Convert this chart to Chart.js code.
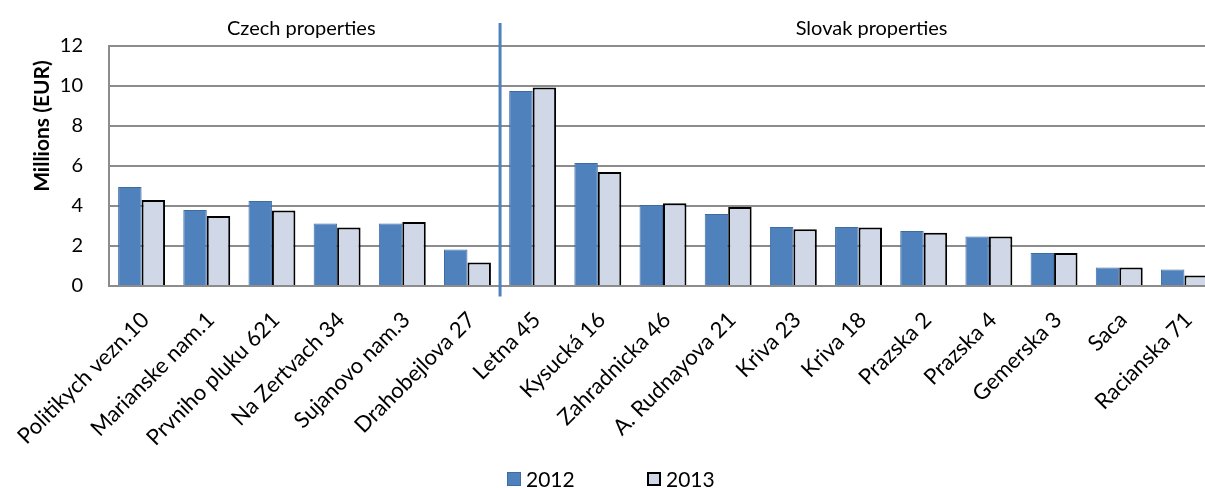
<!DOCTYPE html>
<html>
<head>
<meta charset="utf-8">
<script src="https://cdn.jsdelivr.net/npm/chart.js@4/dist/chart.umd.min.js"></script>
<style>
  html, body { margin: 0; padding: 0; background: #fff; overflow: hidden; }
  #wrap { width: 1240px; height: 488px; }
</style>
</head>
<body>
<div id="wrap"><canvas id="chart" width="1240" height="488"></canvas></div>
<script>
// Property values, millions of EUR
const categories = [
  'Politikych vezn.10', 'Marianske nam.1', 'Prvniho pluku 621', 'Na Zertvach 34',
  'Sujanovo nam.3', 'Drahobejlova 27', 'Letna 45', 'Kysucká 16', 'Zahradnicka 46',
  'A. Rudnayova 21', 'Kriva 23', 'Kriva 18', 'Prazska 2', 'Prazska 4',
  'Gemerska 3', 'Saca', 'Racianska 71'
];
const values2012 = [4.95, 3.8, 4.25, 3.12, 3.12, 1.83, 9.75, 6.15, 4.05, 3.6, 2.95, 2.95, 2.75, 2.47, 1.65, 0.92, 0.83];
const values2013 = [4.3, 3.5, 3.78, 2.92, 3.2, 1.17, 9.92, 5.7, 4.14, 3.95, 2.84, 2.93, 2.66, 2.47, 1.65, 0.92, 0.52];
const seriesNames = ['2012', '2013'];
const yTitle = 'Millions (EUR)';
const groupLabels = ['Czech properties', 'Slovak properties'];

const FONT = 'Lato';
const GRID = '#8c8c8c';

// Divider between the two country groups, group captions, axis title and legend
const decorations = {
  id: 'decorations',
  afterDraw(chart) {
    const { ctx } = chart;
    const x = chart.scales.x, y = chart.scales.y;
    ctx.save();
    const xd = x.getPixelForValue(5.5);
    ctx.strokeStyle = '#4f81bd';
    ctx.lineWidth = 3;
    ctx.beginPath();
    ctx.moveTo(xd, y.getPixelForValue(13.15));
    ctx.lineTo(xd, y.getPixelForValue(-0.53));
    ctx.stroke();

    ctx.fillStyle = '#000';
    ctx.font = '20px ' + FONT;
    ctx.textAlign = 'center';
    ctx.textBaseline = 'middle';
    const capY = y.getPixelForValue(12.88);
    ctx.fillText(groupLabels[0], x.getPixelForValue(2.45), capY);
    ctx.fillText(groupLabels[1], x.getPixelForValue(11.2), capY);

    ctx.save();
    ctx.translate(42, y.getPixelForValue(8));
    ctx.rotate(-Math.PI / 2);
    ctx.font = 'bold 21px ' + FONT;
    ctx.fillText(yTitle, 0, 0);
    ctx.restore();

    // legend: one swatch and label per series
    ctx.font = '21px ' + FONT;
    ctx.textAlign = 'left';
    chart.data.datasets.forEach((ds, i) => {
      const bx = 507 + i * 140, by = 472;
      ctx.fillStyle = ds.backgroundColor;
      ctx.fillRect(bx, by, 14, 14);
      ctx.strokeStyle = ds.borderColor;
      ctx.lineWidth = ds.borderWidth;
      ctx.strokeRect(bx + ds.borderWidth / 2, by + ds.borderWidth / 2, 14 - ds.borderWidth, 14 - ds.borderWidth);
      ctx.fillStyle = '#000';
      ctx.fillText(ds.label, bx + 19, by + 8);
    });
    ctx.restore();
  }
};

Chart.defaults.color = '#000';
Chart.defaults.font.family = FONT;

new Chart(document.getElementById('chart'), {
  type: 'bar',
  data: {
    labels: categories,
    datasets: [
      {
        label: seriesNames[0],
        data: values2012,
        backgroundColor: '#4f81bd',
        borderColor: '#3d6ca3',
        borderWidth: 1,
        categoryPercentage: 0.72,
        barPercentage: 1.0
      },
      {
        label: seriesNames[1],
        data: values2013,
        backgroundColor: '#d0d8e8',
        borderColor: '#000',
        borderWidth: 2,
        categoryPercentage: 0.72,
        barPercentage: 1.0
      }
    ]
  },
  options: {
    responsive: false,
    animation: false,
    layout: { padding: { left: 10, right: 23, top: 46, bottom: 0 } },
    plugins: {
      tooltip: { enabled: false },
      legend: { display: false }
    },
    scales: {
      x: {
        grid: { display: false, drawTicks: false },
        border: { display: true, color: GRID, width: 2 },
        ticks: {
          autoSkip: false,
          maxRotation: 45,
          minRotation: 45,
          padding: 21,
          labelOffset: 4,
          font: { size: 22, family: FONT }
        },
        afterFit(scale) {
          scale.height = 202;
          // the slanted first label may hang into the margin on the left
          scale.paddingLeft = 0;
          scale.paddingRight = 0;
        }
      },
      y: {
        min: 0,
        max: 12,
        ticks: { stepSize: 2, padding: 26, font: { size: 20, family: FONT } },
        grid: { color: GRID, lineWidth: 2, drawTicks: false },
        border: { display: true, color: GRID, width: 2 },
        afterFit(scale) { scale.width = 99; }
      }
    }
  },
  plugins: [decorations]
});
</script>
</body>
</html>
